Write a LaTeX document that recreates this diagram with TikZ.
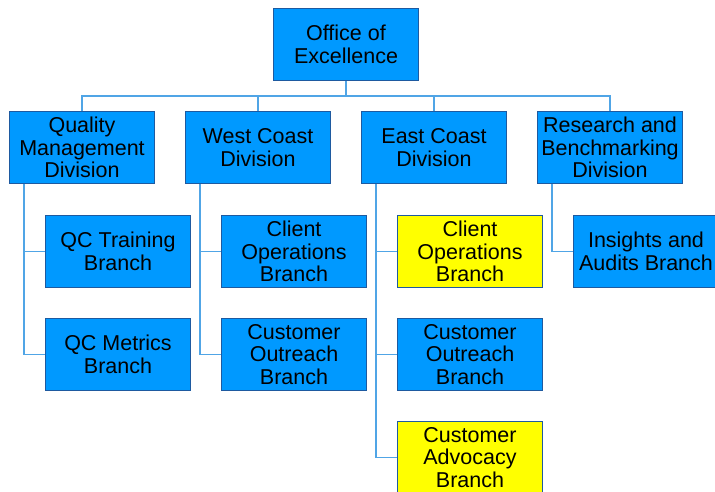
\documentclass[tikz,border=0pt]{standalone}
\usepackage{fontspec}
\setmainfont{Liberation Sans}
\usetikzlibrary{positioning}

\definecolor{boxblue}{RGB}{0,153,255}
\definecolor{edgeblue}{RGB}{30,90,160}
\definecolor{linkblue}{RGB}{80,165,230}
\definecolor{hilite}{RGB}{255,255,0}

\begin{document}
\begin{tikzpicture}[
  x=1pt, y=-1pt,
  unit/.style={draw=edgeblue, line width=1.2pt, fill=boxblue,
               minimum width=145pt, minimum height=72.2pt, inner sep=2pt,
               align=center, font=\fontsize{21.5}{22.5}\selectfont},
  marked/.style={unit, fill=hilite},
  link/.style={draw=linkblue, line width=1.7pt},
  node distance=29.6pt
]
  \clip (0,0) rectangle (715,491);

  \node[unit] (office) at (346,44.5) {Office of\\Excellence};
  \coordinate (bus) at (346,96);

  % divisions
  \node[unit] (qm)  at (82,147.5)  {Quality\\Management\\Division};
  \node[unit] (wc)  at (258,147.5) {West Coast\\Division};
  \node[unit] (ec)  at (434,147.5) {East Coast\\Division};
  \node[unit] (rb)  at (610,147.5) {Research and\\Benchmarking\\Division};

  % branches
  \node[unit, below=30.5pt of qm, xshift=36pt] (qctrain) {QC Training\\Branch};
  \node[unit, below=of qctrain] (qcmetric) {QC Metrics\\Branch};
  \node[unit, below=30.5pt of wc, xshift=36pt] (wcops) {Client\\Operations\\Branch};
  \node[unit, below=of wcops] (wcreach) {Customer\\Outreach\\Branch};
  \node[marked, below=30.5pt of ec, xshift=36pt] (ecops) {Client\\Operations\\Branch};
  \node[unit, below=of ecops] (ecreach) {Customer\\Outreach\\Branch};
  \node[marked, below=of ecreach] (ecadv) {Customer\\Advocacy\\Branch};
  \node[unit, below=30.5pt of rb, xshift=36pt] (rbaudit) {Insights and\\Audits Branch};

  \draw[link] (office.south) -- (bus);
  \draw[link] (bus) -| (qm.north);
  \draw[link] (bus) -| (wc.north);
  \draw[link] (bus) -| (ec.north);
  \draw[link] (bus) -| (rb.north);

  \draw[link] ([xshift=15pt]qm.south west) |- (qctrain.west);
  \draw[link] ([xshift=15pt]qm.south west) |- (qcmetric.west);
  \draw[link] ([xshift=15pt]wc.south west) |- (wcops.west);
  \draw[link] ([xshift=15pt]wc.south west) |- (wcreach.west);
  \draw[link] ([xshift=15pt]ec.south west) |- (ecops.west);
  \draw[link] ([xshift=15pt]ec.south west) |- (ecreach.west);
  \draw[link] ([xshift=15pt]ec.south west) |- (ecadv.west);
  \draw[link] ([xshift=15pt]rb.south west) |- (rbaudit.west);
\end{tikzpicture}
\end{document}
